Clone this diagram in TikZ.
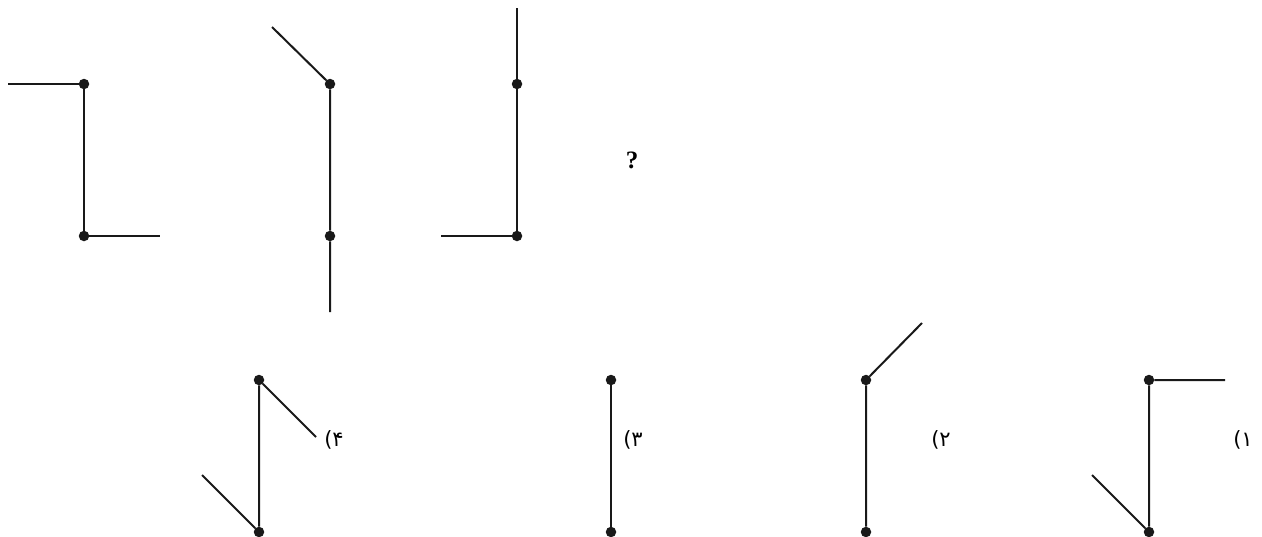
\documentclass[tikz,border=0pt]{standalone}
\usepackage{fontspec}
\setmainfont{Liberation Serif}
\newfontfamily\arabicfont[Script=Arabic]{DejaVu Sans}
\TeXXeTstate=1
\begin{document}
\begin{tikzpicture}[x=1pt,y=-1pt,
  seg/.style={line width=2pt,draw=black!90},
  dotn/.style={circle,fill=black!90,inner sep=0pt,minimum size=10.5pt},
  lab/.style={font=\arabicfont\fontsize{21}{21}\selectfont,inner sep=0pt},
  q/.style={font=\bfseries\fontsize{25}{25}\selectfont,inner sep=0pt}]
\useasboundingbox (0,0) rectangle (1262,536);
% Figure A
\node[dotn] (a1) at (84,84) {};
\node[dotn] (a2) at (84,236) {};
\coordinate (a0) at (8,84);
\coordinate (a3) at (160,236);
\draw[seg] (a0) -- (a1) -- (a2) -- (a3);
% Figure B
\node[dotn] (b1) at (330,84) {};
\node[dotn] (b2) at (330,236) {};
\coordinate (b0) at (272,27);
\coordinate (b3) at (330,312);
\draw[seg] (b0) -- (b1) -- (b2) -- (b3);
% Figure C
\node[dotn] (c1) at (517,84) {};
\node[dotn] (c2) at (517,236) {};
\coordinate (c0) at (517,8);
\coordinate (c3) at (441,236);
\draw[seg] (c0) -- (c1) -- (c2) -- (c3);
% question mark
\node[q] (qm) at (632,160) {?};
% Option 4
\node[dotn] (d1) at (259,380) {};
\node[dotn] (d2) at (259,532) {};
\coordinate (d0) at (316,437);
\coordinate (d3) at (202,475);
\draw[seg] (d0) -- (d1) -- (d2) -- (d3);
\node[lab] (l4) at (334,440) {\beginR ۴)\endR};
% Option 3
\node[dotn] (e1) at (611,380) {};
\node[dotn] (e2) at (611,532) {};
\draw[seg] (e1) -- (e2);
\node[lab] (l3) at (633,440) {\beginR ۳)\endR};
% Option 2
\node[dotn] (f1) at (866,380) {};
\node[dotn] (f2) at (866,532) {};
\coordinate (f0) at (922,323);
\draw[seg] (f0) -- (f1) -- (f2);
\node[lab] (l2) at (941,440) {\beginR ۲)\endR};
% Option 1
\node[dotn] (g1) at (1149,380) {};
\node[dotn] (g2) at (1149,532) {};
\coordinate (g0) at (1225,380);
\coordinate (g3) at (1092,475);
\draw[seg] (g0) -- (g1) -- (g2) -- (g3);
\node[lab] (l1) at (1243,440) {\beginR ۱)\endR};
\end{tikzpicture}
\end{document}
